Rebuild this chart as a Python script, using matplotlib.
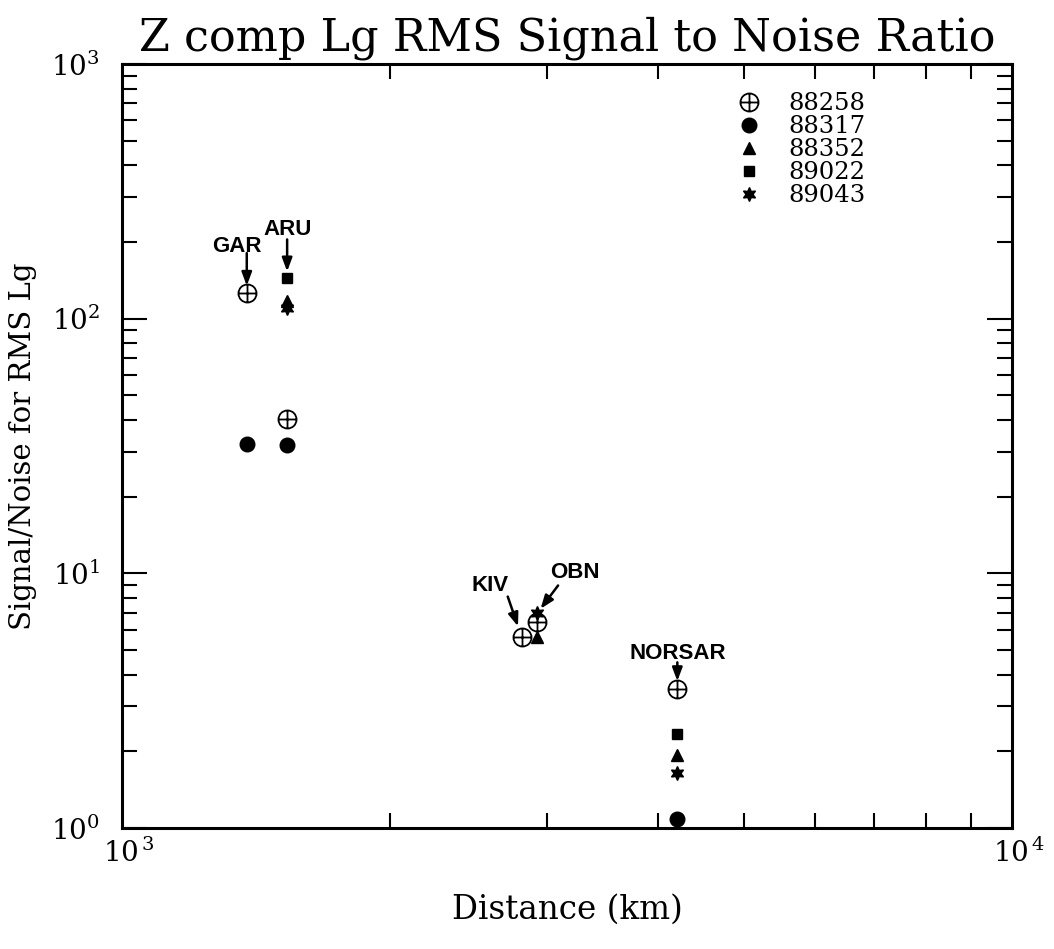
import numpy as np
import matplotlib
matplotlib.use("Agg")
import matplotlib.pyplot as plt
from matplotlib.path import Path
from matplotlib.ticker import LogLocator, NullFormatter
from matplotlib.transforms import ScaledTranslation

nan = np.nan

# ---- data ----
stations = ["GAR", "ARU", "KIV", "OBN", "NORSAR"]
distance_km = [1381, 1533, 2812, 2928, 4207]
events = ["88258", "88317", "88352", "89022", "89043"]
snr_88258 = [125.7, 40.4, 5.63, 6.44, 3.50]
snr_88317 = [32.3, 31.8, nan, nan, 1.08]
snr_88352 = [nan, 117.0, nan, 5.60, 1.93]
snr_89022 = [nan, 144.0, nan, nan, 2.34]
snr_89043 = [nan, 110.0, nan, 6.97, 1.65]
series = [snr_88258, snr_88317, snr_88352, snr_89022, snr_89043]

plt.rcParams["font.family"] = ["DejaVu Serif"]
plt.rcParams["mathtext.fontset"] = "dejavuserif"

fig = plt.figure(figsize=(10.54, 9.49), dpi=100)
ax = fig.add_axes([122/1054, 1-828/949, 890/1054, 764/949])

# circle-with-cross marker
circ = Path.unit_circle()
cross = Path([(-1, 0), (1, 0), (0, -1), (0, 1)],
             [Path.MOVETO, Path.LINETO, Path.MOVETO, Path.LINETO])
oplus = Path.make_compound_path(circ, cross)

styles = [
    dict(marker=oplus, markersize=13, markerfacecolor="none", markeredgecolor="black", markeredgewidth=1.3),
    dict(marker="o", markersize=10.5, color="black"),
    dict(marker="^", markersize=9, color="black"),
    dict(marker="s", markersize=7.5, color="black"),
    dict(marker=(6, 1, 0), markersize=10, color="black"),
]

for ev, vals, st in zip(events, series, styles):
    ax.plot(distance_km, vals, linestyle="none", label=ev, **st)

ax.set_xscale("log")
ax.set_yscale("log")
ax.set_xlim(1e3, 1e4)
ax.set_ylim(1e0, 1e3)

ax.xaxis.set_minor_locator(LogLocator(base=10, subs=np.arange(2, 10), numticks=20))
ax.yaxis.set_minor_locator(LogLocator(base=10, subs=np.arange(2, 10), numticks=20))
ax.xaxis.set_minor_formatter(NullFormatter())
ax.yaxis.set_minor_formatter(NullFormatter())
ax.set_xticks([1e3, 1e4])
ax.set_xticklabels([r"$10^{\,3}$", r"$10^{\,4}$"])
ax.set_yticks([1e0, 1e1, 1e2, 1e3])
ax.set_yticklabels([r"$10^{0}$", r"$10^{1}$", r"$10^{2}$", r"$10^{3}$"])

ax.tick_params(which="both", direction="in", top=True, right=True, width=1.5)
ax.tick_params(which="major", length=18, labelsize=20)
ax.tick_params(axis="y", which="major", pad=16)
ax.tick_params(axis="x", which="major", length=0, pad=8)
ax.tick_params(which="minor", length=11)
for lab in ax.get_xticklabels():
    lab.set_transform(lab.get_transform() + ScaledTranslation(0.07, 0, fig.dpi_scale_trans))
for sp in ax.spines.values():
    sp.set_linewidth(2.2)

ax.set_title("Z comp Lg RMS Signal to Noise Ratio", fontsize=32, pad=10)
ax.set_xlabel("Distance (km)", fontsize=23.5, labelpad=18)
ax.set_ylabel("Signal/Noise for RMS Lg", fontsize=21, labelpad=10)

# station annotations (arrow start offset pt, text offset pt, shrinkB pt)
ann = {
    "GAR": ((0, 29), (-7, 34), 5.5),
    "ARU": ((0, 28), (0, 35), 5),
    "KIV": ((-10, 29), (-23, 37), 8),
    "OBN": ((15, 20), (27, 29), 4),
    "NORSAR": ((0, 19.5), (0, 26), 6),
}
for name, d, *vals in zip(stations, distance_km, *series):
    target = np.nanmax(vals)
    a_off, t_off, shr = ann[name]
    ax.annotate("", xy=(d, target), xytext=a_off, textcoords="offset points",
                arrowprops=dict(arrowstyle="-|>,head_length=0.8,head_width=0.3",
                                color="black", lw=1.8, shrinkA=0, shrinkB=shr))
    ax.annotate(name, xy=(d, target), xytext=t_off, textcoords="offset points",
                ha="center", va="center", fontsize=16, fontweight="bold",
                family=["Liberation Sans", "DejaVu Sans"])

leg = ax.legend(loc="upper left", bbox_to_anchor=(0.68, 0.976), frameon=False,
                fontsize=17.5, handlelength=1.0, handletextpad=1.1, labelspacing=0.0,
                borderaxespad=0)

fig.savefig("out.png", dpi=100)
